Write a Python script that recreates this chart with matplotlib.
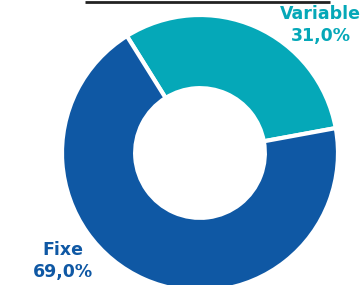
import matplotlib
matplotlib.use("Agg")
from matplotlib import pyplot as plt

labels = ["Variable", "Fixe"]
shares = [31.0, 69.0]
colors = ["#05A8B8", "#0F58A4"]

fig = plt.figure(figsize=(3.6, 2.85), dpi=100)
ax = fig.add_axes([0, 0, 1, 1])

ax.pie(shares, colors=colors, startangle=122, counterclock=False,
       radius=1.0, wedgeprops=dict(width=0.53, edgecolor="white", linewidth=3))

# labels outside the ring
ax.text(0.875, 0.93, "%s\n%s" % (labels[0], ("%.1f%%" % shares[0]).replace(".", ",")),
        color=colors[0], ha="center", va="center", fontsize=12.5, fontweight="bold",
        linespacing=1.3)
ax.text(-0.996, -0.783, "%s\n%s" % (labels[1], ("%.1f%%" % shares[1]).replace(".", ",")),
        color=colors[1], ha="center", va="center", fontsize=12.5, fontweight="bold",
        linespacing=1.3)

# underline of the (cropped) heading
ax.plot([-0.833, 0.942], [1.094, 1.094], color="#222222", lw=2, solid_capstyle="butt")

ax.set_xlim(-200 / 138, 160 / 138)
ax.set_ylim(-132 / 138, 153 / 138)
ax.set_aspect("auto")
ax.axis("off")

fig.savefig("out.png", dpi=100)
